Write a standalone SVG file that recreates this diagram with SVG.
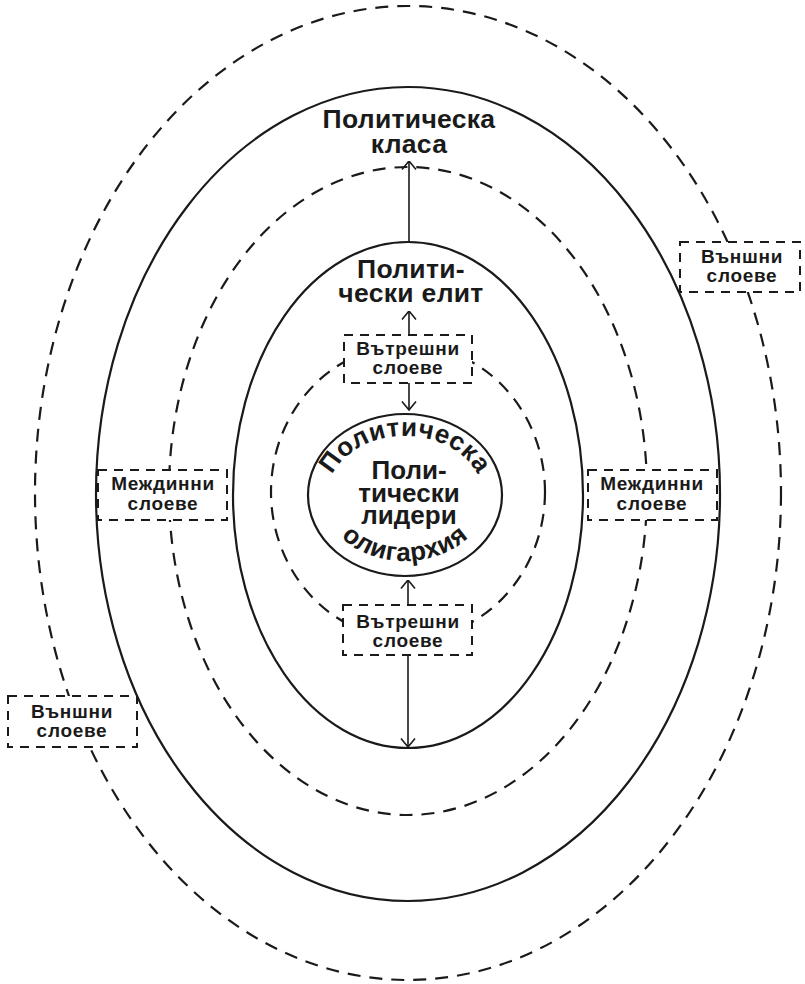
<svg xmlns="http://www.w3.org/2000/svg" width="805" height="984" viewBox="0 0 805 984">
<style>
.bg{fill:#ffffff}
.solid{fill:none;stroke:#1a1a1a;stroke-width:2.2}
.dash{fill:none;stroke:#1a1a1a;stroke-width:2.2;stroke-dasharray:13 9}
.box{fill:#ffffff;stroke:#1a1a1a;stroke-width:2;stroke-dasharray:9 7}
.conn{fill:none;stroke:#1a1a1a;stroke-width:1.6}
text{font-family:"Liberation Sans",Arial,sans-serif;font-weight:bold;fill:#1a1a1a;text-anchor:middle}
.big{font-size:26.5px;letter-spacing:0.3px}
.ctr{font-size:26px}
.arc{font-size:26px;letter-spacing:0.6px}
.sm{font-size:19px;letter-spacing:0.7px}
</style>
<defs>
<marker id="arr" markerUnits="userSpaceOnUse" viewBox="0 0 10 16" refX="9.5" refY="8" markerWidth="10" markerHeight="16" orient="auto">
<path d="M1,1 L9.5,8 L1,15" fill="none" stroke="#1a1a1a" stroke-width="1.6"/>
</marker>
<path id="topArc" d="M327,497 A78,61 0 0 1 483,497"/>
<path id="botArc" d="M321,493 A84,68 0 0 0 489,493"/>
</defs>
<rect class="bg" x="0" y="0" width="805" height="984"/>

<g id="outer-layers">
<ellipse class="dash" cx="408" cy="493" rx="373" ry="487"/>
</g>
<g id="political-class">
<ellipse class="solid" cx="408" cy="494" rx="312" ry="407"/>
<text class="big" x="409" y="128">Политическа</text>
<text class="big" x="409" y="153">класа</text>
</g>
<g id="middle-layers">
<ellipse class="dash" cx="408" cy="491" rx="239" ry="324"/>
</g>
<g id="political-elite">
<ellipse class="solid" cx="408" cy="495" rx="175" ry="253"/>
<text class="big" x="411" y="278">Полити-</text>
<text class="big" x="411" y="302">чески елит</text>
</g>
<g id="inner-layers">
<ellipse class="dash" cx="408" cy="492" rx="137" ry="147"/>
</g>
<g id="leaders">
<ellipse class="solid" cx="405" cy="495" rx="97" ry="81" fill="#ffffff"/>
<text class="arc"><textPath href="#topArc" startOffset="50%">Политическа</textPath></text>
<text class="arc"><textPath href="#botArc" startOffset="50%">олигархия</textPath></text>
<text class="ctr" x="409" y="479">Поли-</text>
<text class="ctr" x="409" y="502">тически</text>
<text class="ctr" x="409" y="524">лидери</text>
</g>

<g id="connectors">
<line class="conn" x1="409" y1="242" x2="409" y2="161" marker-end="url(#arr)"/>
<line class="conn" x1="409" y1="335" x2="409" y2="311" marker-end="url(#arr)"/>
<line class="conn" x1="409" y1="383" x2="409" y2="410" marker-end="url(#arr)"/>
<line class="conn" x1="408" y1="605" x2="408" y2="580" marker-end="url(#arr)"/>
<line class="conn" x1="408" y1="655" x2="408" y2="747" marker-end="url(#arr)"/>
</g>

<g id="box-inner-top">
<rect class="box" x="344" y="335" width="128" height="48"/>
<text class="sm" x="408" y="355">Вътрешни</text>
<text class="sm" x="408" y="374">слоеве</text>
</g>
<g id="box-inner-bottom">
<rect class="box" x="343" y="605" width="129" height="50"/>
<text class="sm" x="408" y="628">Вътрешни</text>
<text class="sm" x="408" y="647">слоеве</text>
</g>
<g id="box-middle-left">
<rect class="box" x="98" y="470" width="129" height="50"/>
<text class="sm" x="163" y="490">Междинни</text>
<text class="sm" x="163" y="510">слоеве</text>
</g>
<g id="box-middle-right">
<rect class="box" x="588" y="470" width="129" height="50"/>
<text class="sm" x="652" y="490">Междинни</text>
<text class="sm" x="652" y="510">слоеве</text>
</g>
<g id="box-outer-right">
<rect class="box" x="680" y="242" width="120" height="50"/>
<text class="sm" x="742" y="263">Външни</text>
<text class="sm" x="742" y="282">слоеве</text>
</g>
<g id="box-outer-left">
<rect class="box" x="8" y="696" width="129" height="51"/>
<text class="sm" x="72" y="718">Външни</text>
<text class="sm" x="72" y="737">слоеве</text>
</g>
</svg>
